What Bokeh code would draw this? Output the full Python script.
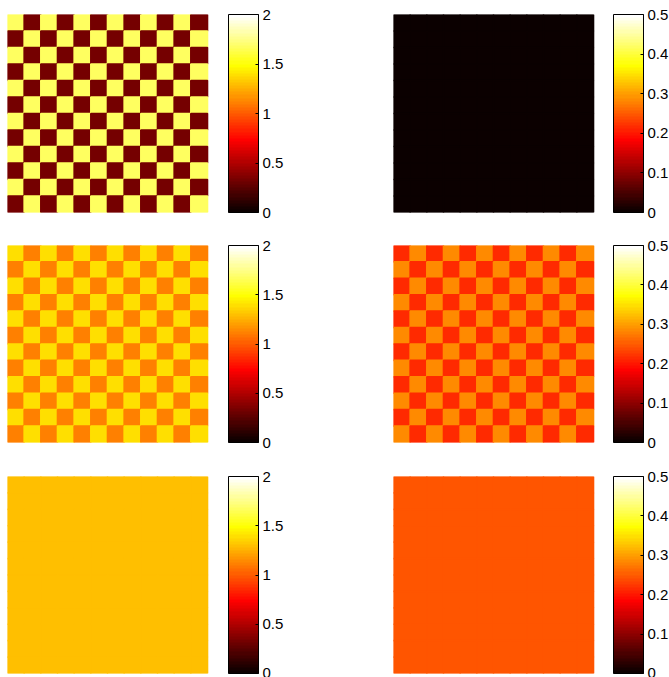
import numpy as np
from bokeh.plotting import figure
from bokeh.models import (LinearColorMapper, ColorBar, FixedTicker, Range1d,
                          ColumnDataSource)
from bokeh.layouts import column, row
from bokeh.embed import file_html
from bokeh.resources import INLINE

# ---- data ----------------------------------------------------------------
n_cells = 12
# values of the checkerboard: [cell at top-left parity, other parity]
top_left_cells = [1.67, 0.33]
top_right_cells = [0.0, 0.0]
mid_left_cells = [1.4, 1.1]
mid_right_cells = [0.215, 0.285]
bot_left_cells = [1.3, 1.3]
bot_right_cells = [0.245, 0.245]

left_clim = [0, 2]
right_clim = [0, 0.5]
left_ticks = [0, 0.5, 1, 1.5, 2]
left_tick_labels = ["0", "0.5", "1", "1.5", "2"]
right_ticks = [0, 0.1, 0.2, 0.3, 0.4, 0.5]
right_tick_labels = ["0", "0.1", "0.2", "0.3", "0.4", "0.5"]


def hot(m=64):
    n1 = int(3 / 8 * m)
    n2 = n1
    n3 = m - n1 - n2
    out = []
    for k in range(1, m + 1):
        r = k / n1 if k <= n1 else 1.0
        if k <= n1:
            g = 0.0
        elif k <= n1 + n2:
            g = (k - n1) / n2
        else:
            g = 1.0
        b = 0.0 if k <= n1 + n2 else (k - n1 - n2) / n3
        out.append("#%02x%02x%02x" % (round(r * 255), round(g * 255), round(b * 255)))
    return out


PALETTE = hot(64)
FONT = "Liberation Sans"
IMG_W = 200


def make_panel(cells, clim, ticks, labels, left_border, gap, right_border,
               top_border, frame_h, bottom_border):
    xs, ys, vs = [], [], []
    for r in range(n_cells):          # r counted from the top
        for c in range(n_cells):
            xs.append(c + 0.5)
            ys.append(n_cells - r - 0.5)
            vs.append(cells[(r + c) % 2])
    src = ColumnDataSource(dict(x=xs, y=ys, v=vs))
    mapper = LinearColorMapper(palette=PALETTE, low=clim[0], high=clim[1])

    frame_w = IMG_W + gap
    p = figure(frame_width=frame_w, frame_height=frame_h,
               x_range=Range1d(0, n_cells * frame_w / IMG_W),
               y_range=Range1d(0, n_cells),
               toolbar_location=None, output_backend="svg",
               x_axis_location=None, y_axis_location=None,
               min_border_left=left_border, min_border_right=right_border,
               min_border_top=top_border, min_border_bottom=bottom_border)
    p.xgrid.visible = False
    p.ygrid.visible = False
    p.outline_line_color = None
    p.rect(x="x", y="y", width=1, height=1, source=src,
           fill_color={"field": "v", "transform": mapper},
           line_color={"field": "v", "transform": mapper}, line_width=1.6)

    cb = ColorBar(color_mapper=mapper,
                  ticker=FixedTicker(ticks=ticks),
                  major_label_overrides={t: l for t, l in zip(ticks, labels)},
                  width=30, margin=0, padding=0,
                  bar_line_color="black", bar_line_width=1,
                  major_tick_in=3, major_tick_out=0,
                  major_tick_line_color="black",
                  label_standoff=4,
                  major_label_text_font=FONT,
                  major_label_text_font_size="15px",
                  major_label_text_color="black",
                  background_fill_color=None, border_line_color=None)
    p.add_layout(cb, "right")
    return p


rows_spec = [(14, 198, 20), (13, 197, 21), (13, 197, 4)]
cells_spec = [
    (top_left_cells, top_right_cells),
    (mid_left_cells, mid_right_cells),
    (bot_left_cells, bot_right_cells),
]

rows = []
for (lcells, rcells), (tb, fh, bb) in zip(cells_spec, rows_spec):
    pl = make_panel(lcells, left_clim, left_ticks, left_tick_labels,
                    7, 21, 152, tb, fh, bb)
    pr = make_panel(rcells, right_clim, right_ticks, right_tick_labels,
                    13, 20, 56, tb, fh, bb)
    rows.append(row(pl, pr))

layout = column(*rows)

open("out.html", "w").write(file_html(layout, INLINE))
